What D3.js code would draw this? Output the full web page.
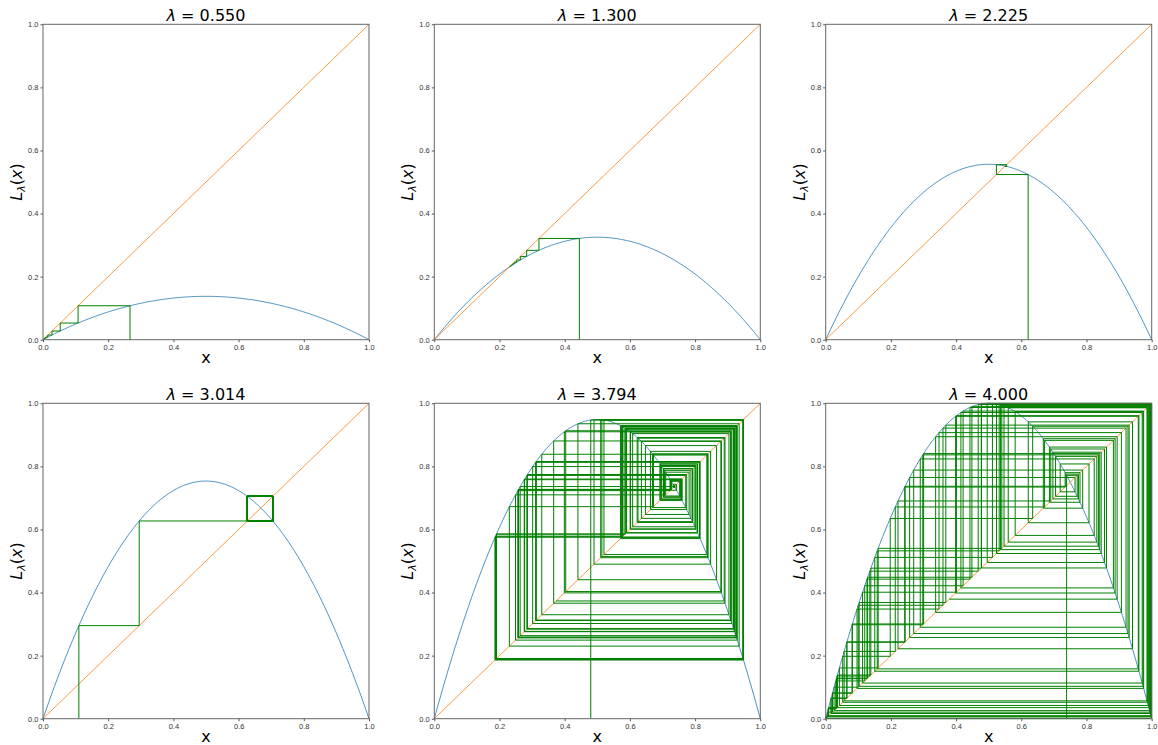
<!DOCTYPE html>
<html>
<head>
<meta charset="utf-8">
<script src="https://cdn.jsdelivr.net/npm/d3@7"></script>
<style>
  body { margin: 0; background: #fff; }
  svg { display: block; font-family: "DejaVu Sans", sans-serif; }
  .tick text { font-size: 7.5px; fill: #333; }
  .tick line { stroke: #555; }
</style>
</head>
<body>
<svg width="1158" height="745"></svg>
<script>
// logistic map cobweb plots, one panel per lambda
const lambdas = [0.550, 1.300, 2.225, 3.014, 3.794, 4.000];
const startX = [0.267, 0.445, 0.621, 0.110, 0.480, 0.739];
const nSteps = [100, 100, 100, 100, 120, 120];
const tickValues = [0.0, 0.2, 0.4, 0.6, 0.8, 1.0];

const svg = d3.select("svg");
const colLeft = [43, 434.3, 825.7];
const rowTop = [24.3, 403.3];
const width = 326, height = 315.4;

const logistic = (lam, x) => lam * x * (1 - x);

// cobweb path: (x0,0) -> (x0,f) -> (f,f) -> (f,f(f)) ...
function cobweb(lam, x0, n) {
    const pts = [[x0, 0]];
    let x = x0;
    for (let i = 0; i < n; i++) {
        const y = logistic(lam, x);
        pts.push([x, y]);
        pts.push([y, y]);
        x = y;
    }
    return pts;
}

lambdas.forEach((lam, i) => {
    const g = svg.append("g")
        .attr("transform", `translate(${colLeft[i % 3]},${rowTop[Math.floor(i / 3)]})`);

    const x = d3.scaleLinear().domain([0, 1]).range([0, width]);
    const y = d3.scaleLinear().domain([0, 1]).range([height, 0]);

    const xs = d3.range(0, 201).map(k => k / 200);
    const line = d3.line().x(d => x(d[0])).y(d => y(d[1]));

    // the map itself
    g.append("path")
        .datum(xs.map(v => [v, logistic(lam, v)]))
        .attr("d", line)
        .attr("fill", "none")
        .attr("stroke", "#1f77b4")
        .attr("stroke-width", 0.8);

    // y = x
    g.append("path")
        .datum([[0, 0], [1, 1]])
        .attr("d", line)
        .attr("fill", "none")
        .attr("stroke", "#ff7f0e")
        .attr("stroke-width", 0.8);

    // iteration
    g.append("path")
        .datum(cobweb(lam, startX[i], nSteps[i]))
        .attr("d", line)
        .attr("fill", "none")
        .attr("stroke", "green")
        .attr("stroke-width", 1);

    g.append("g")
        .attr("transform", `translate(0,${height})`)
        .call(d3.axisBottom(x).tickValues(tickValues).tickFormat(d3.format(".1f")).tickSize(2.5).tickPadding(2))
        .call(a => a.select(".domain").remove());

    g.append("g")
        .call(d3.axisLeft(y).tickValues(tickValues).tickFormat(d3.format(".1f")).tickSize(2.5).tickPadding(2))
        .call(a => a.select(".domain").remove());

    g.append("rect")
        .attr("width", width)
        .attr("height", height)
        .attr("fill", "none")
        .attr("stroke", "#666")
        .attr("stroke-width", 1);

    // title
    const t = g.append("text")
        .attr("x", width / 2)
        .attr("y", -3)
        .attr("text-anchor", "middle")
        .attr("font-size", 16)
        .attr("fill", "#000");
    t.append("tspan").attr("font-style", "italic").text("λ");
    t.append("tspan").text(" = " + lam.toFixed(3));

    // axis labels
    g.append("text")
        .attr("x", width / 2)
        .attr("y", height + 23)
        .attr("text-anchor", "middle")
        .attr("font-size", 16)
        .text("x");

    const yl = g.append("text")
        .attr("transform", `translate(-21,${height / 2}) rotate(-90)`)
        .attr("text-anchor", "middle")
        .attr("font-size", 16);
    yl.append("tspan").attr("font-style", "italic").text("L");
    yl.append("tspan").attr("font-style", "italic").attr("font-size", 11).attr("dy", 3).text("λ");
    yl.append("tspan").attr("dy", -3).text("(");
    yl.append("tspan").attr("font-style", "italic").text("x");
    yl.append("tspan").text(")");
});
</script>
</body>
</html>
